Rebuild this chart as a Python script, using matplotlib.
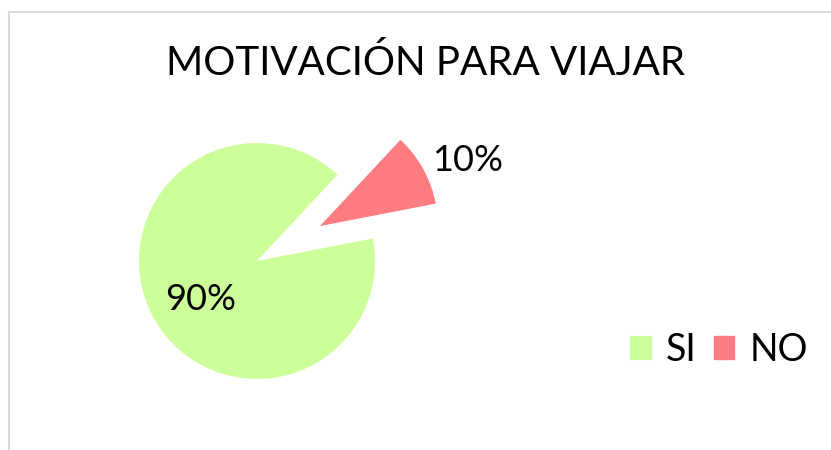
import matplotlib
matplotlib.use('Agg')
import matplotlib.pyplot as plt
from matplotlib.lines import Line2D

plt.rcParams['font.family'] = ['Lato', 'DejaVu Sans']

titulo = "MOTIVACIÓN PARA VIAJAR"
categorias = ["SI", "NO"]
valores = [90, 10]
colores = ["#CCFF99", "#FF7C80"]

fig = plt.figure(figsize=(8.31, 4.5), dpi=100)

# light grey chart border (right and bottom edges are cut off in the original)
fig.add_artist(Line2D([8.5/831, 8.5/831], [0, 1 - 11.5/450], color='#D9D9D9', lw=1.5))
fig.add_artist(Line2D([8.5/831, 1], [1 - 11.5/450, 1 - 11.5/450], color='#D9D9D9', lw=1.5))

# pie centred at (257, 261) px, radius 118 px -> axes spans +-2 data units
R = 118
cx, cy = 257, 261
ax = fig.add_axes([(cx - 2*R)/831, (450 - cy - 2*R)/450, 4*R/831, 4*R/450])
wedges, texts, autotexts = ax.pie(valores, colors=colores, startangle=47, counterclock=True,
                                  explode=[0, 0.61], autopct='%1.0f%%', pctdistance=0.58,
                                  textprops={'fontsize': 26, 'color': 'black'})
ax.set_xlim(-2, 2)
ax.set_ylim(-2, 2)
ax.set_aspect('equal')
ax.axis('off')

# Excel places the NO label outside its slice
autotexts[1].set_position(((468 - cx)/R, (cy - 161)/R))
autotexts[0].set_position(((201 - cx)/R, (cy - 299)/R))

fig.text(426/831, 1 - 63/450, titulo, ha='center', va='center', fontsize=29)

handles = [plt.Rectangle((0, 0), 1, 1, color=c) for c in colores]
fig.legend(handles, categorias, loc='center', bbox_to_anchor=(719/831, 1 - 350/450),
           ncol=2, frameon=False, fontsize=27, handlelength=0.55, handleheight=0.55,
           handletextpad=0.4, columnspacing=0.45, borderpad=0, borderaxespad=0)

fig.savefig("out.png", dpi=100)
